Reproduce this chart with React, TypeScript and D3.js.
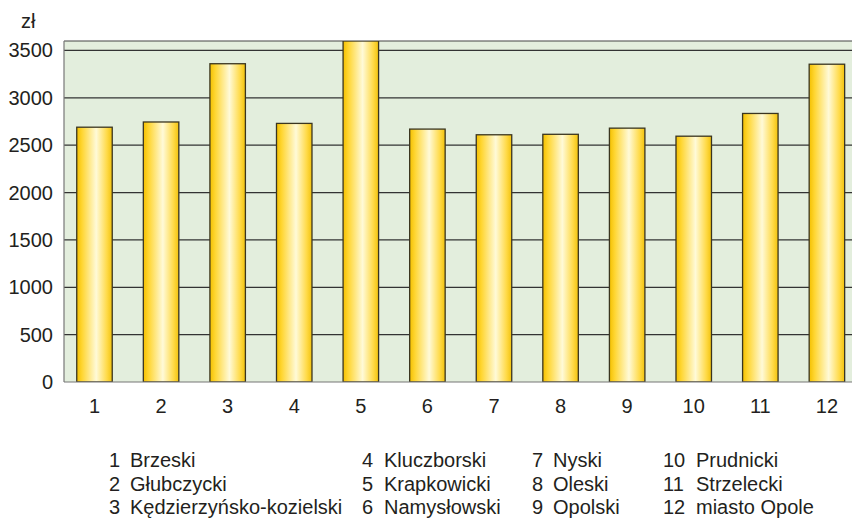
import React from "react";
import * as d3 from "d3";

const categories = ["1", "2", "3", "4", "5", "6", "7", "8", "9", "10", "11", "12"];
const values = [2690, 2745, 3360, 2730, 3600, 2670, 2610, 2615, 2680, 2595, 2835, 3355];
const yTicks = [0, 500, 1000, 1500, 2000, 2500, 3000, 3500];
const legendNames = [
  "Brzeski", "Głubczycki", "Kędzierzyńsko-kozielski",
  "Kluczborski", "Krapkowicki", "Namysłowski",
  "Nyski", "Oleski", "Opolski",
  "Prudnicki", "Strzelecki", "miasto Opole",
];
const unitLabel = "zł";

const W = 852, H = 518;
const plotLeft = 64, plotTop = 41, plotBottom = 382;
const font = "'Liberation Sans', Arial, sans-serif";
const textColor = "#231f20";
const fs = 20;

export default function App() {
  const x = d3.scaleBand<string>().domain(categories).range([61.2, 860.2]).paddingInner(0.467).paddingOuter(0.2335);
  const y = d3.scaleLinear().domain([0, 3600]).range([plotBottom, plotTop]);

  const legendCols = [
    { numX: 109, nameX: 130 },
    { numX: 362, nameX: 384 },
    { numX: 532, nameX: 553 },
    { numX: 663, nameX: 696 },
  ];
  const rowY = [467, 491, 514];

  return (
    <svg width={W} height={H} style={{ position: "absolute", left: 0, top: 0 }}>
      <defs>
        <linearGradient id="barGrad" x1="0" x2="1" y1="0" y2="0">
          <stop offset="0%" stopColor="#f4c000" />
          <stop offset="15%" stopColor="#ffd632" />
          <stop offset="55%" stopColor="#fffad8" />
          <stop offset="85%" stopColor="#ffda48" />
          <stop offset="100%" stopColor="#f2c20c" />
        </linearGradient>
        <clipPath id="plotClip">
          <rect x={plotLeft} y={plotTop} width={W - plotLeft} height={plotBottom - plotTop} />
        </clipPath>
      </defs>
      <rect x={0} y={0} width={W} height={H} fill="#fff" />
      <rect x={plotLeft} y={plotTop} width={W - plotLeft} height={plotBottom - plotTop} fill="#e3eedd" />
      {yTicks.filter((t) => t > 0).map((t) => (
        <line key={t} x1={plotLeft} x2={W} y1={y(t)} y2={y(t)} stroke="#333" strokeWidth={1.2} />
      ))}
      <line x1={plotLeft} x2={W} y1={plotTop} y2={plotTop} stroke="#444" strokeWidth={1.2} />
      <g clipPath="url(#plotClip)">
        {categories.map((c, i) => (
          <rect
            key={c}
            x={x(c)}
            y={y(values[i])}
            width={x.bandwidth()}
            height={plotBottom - y(values[i])}
            fill="url(#barGrad)"
            stroke="#3a3520"
            strokeWidth={1.3}
          />
        ))}
      </g>
      <line x1={plotLeft} x2={plotLeft} y1={plotTop} y2={plotBottom} stroke="#777" strokeWidth={1.2} />
      <line x1={plotLeft} x2={W} y1={plotBottom} y2={plotBottom} stroke="#777" strokeWidth={1.2} />
      <text x={21} y={28} fontFamily={font} fontSize={fs} fill={textColor}>{unitLabel}</text>
      {yTicks.map((t) => (
        <text key={t} x={53} y={y(t) + 7} textAnchor="end" fontFamily={font} fontSize={fs} fill={textColor}>
          {t}
        </text>
      ))}
      {categories.map((c) => (
        <text key={c} x={(x(c) as number) + x.bandwidth() / 2} y={413} textAnchor="middle" fontFamily={font} fontSize={fs} fill={textColor}>
          {c}
        </text>
      ))}
      {legendNames.map((name, i) => {
        const col = legendCols[Math.floor(i / 3)];
        const ry = rowY[i % 3];
        return (
          <g key={name}>
            <text x={col.numX} y={ry} fontFamily={font} fontSize={fs} fill={textColor}>{categories[i]}</text>
            <text x={col.nameX} y={ry} fontFamily={font} fontSize={fs} fill={textColor}>{name}</text>
          </g>
        );
      })}
    </svg>
  );
}
